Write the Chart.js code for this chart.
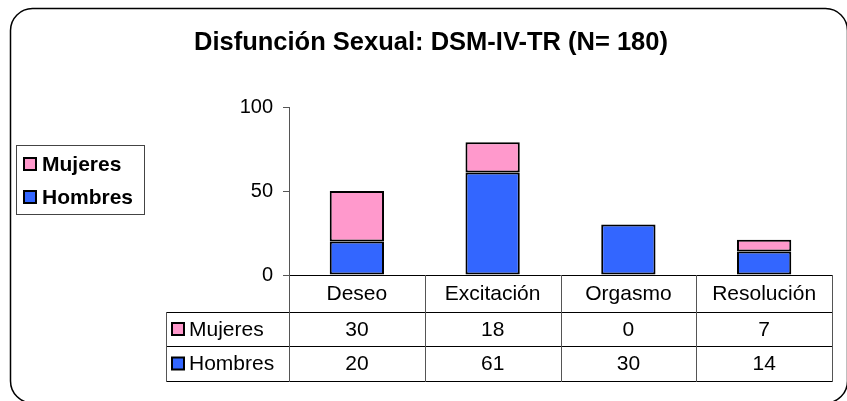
<!DOCTYPE html>
<html>
<head>
<meta charset="utf-8">
<script src="https://cdn.jsdelivr.net/npm/chart.js@4.4.1/dist/chart.umd.min.js"></script>
<style>
html,body{margin:0;padding:0;background:#fff;}
canvas{display:block;}
</style>
</head>
<body>
<canvas id="c" width="847" height="401"></canvas>
<script>
const TITLE = 'Disfunción Sexual: DSM-IV-TR (N= 180)';
const categories = ['Deseo', 'Excitación', 'Orgasmo', 'Resolución'];
const hombres = [20, 61, 30, 14];
const mujeres = [30, 18, 0, 7];
const yTicks = [0, 50, 100];

const BLUE = '#3366FF';
const PINK = '#FF99CC';
const FONT = 'Arial, "Liberation Sans", sans-serif';

const decor = {
  id: 'decor',
  beforeDraw(chart) {
    const ctx = chart.ctx;
    ctx.save();
    ctx.fillStyle = '#fff';
    ctx.fillRect(0, 0, chart.width, chart.height);
    // rounded frame
    const x0 = 10.5, y0 = 8.5, x1 = 847.5, y1 = 403, r = 22;
    ctx.beginPath();
    ctx.moveTo(x0 + r, y0);
    ctx.lineTo(x1 - r, y0);
    ctx.arcTo(x1, y0, x1, y0 + r, r);
    ctx.lineTo(x1, y1 - r);
    ctx.arcTo(x1, y1, x1 - r, y1, r);
    ctx.lineTo(x0 + r, y1);
    ctx.arcTo(x0, y1, x0, y1 - r, r);
    ctx.lineTo(x0, y0 + r);
    ctx.arcTo(x0, y0, x0 + r, y0, r);
    ctx.closePath();
    ctx.strokeStyle = '#000';
    ctx.lineWidth = 1.5;
    ctx.stroke();
    // title
    ctx.fillStyle = '#000';
    ctx.font = 'bold 25.5px ' + FONT;
    ctx.textAlign = 'center';
    ctx.textBaseline = 'middle';
    ctx.fillText(TITLE, 431, 43);
    ctx.restore();
  },
  afterDraw(chart) {
    const ctx = chart.ctx;
    const xs = chart.scales.x;
    const area = chart.chartArea;
    const n = categories.length;
    const band = (area.right - area.left) / n;
    const rows = [area.bottom, 312, 346, 381];
    const labelLeft = 166;
    ctx.save();
    // axis line
    ctx.strokeStyle = '#000';
    ctx.lineWidth = 1;
    ctx.beginPath();
    ctx.moveTo(area.left, rows[0] + 0.5);
    ctx.lineTo(area.right, rows[0] + 0.5);
    ctx.stroke();
    // horizontal table lines
    ctx.strokeStyle = '#000';
    for (let k = 1; k < rows.length; k++) {
      ctx.beginPath();
      ctx.moveTo(labelLeft, rows[k] + 0.5);
      ctx.lineTo(area.right, rows[k] + 0.5);
      ctx.stroke();
    }
    // vertical table lines
    ctx.strokeStyle = '#555';
    for (let i = 0; i <= n; i++) {
      const px = Math.round(xs.getPixelForValue(Math.min(i, n - 1)) + (i === n ? band / 2 : -band / 2)) + 0.5;
      ctx.beginPath();
      ctx.moveTo(px, rows[0]);
      ctx.lineTo(px, rows[3] + 1);
      ctx.stroke();
    }
    ctx.beginPath();
    ctx.moveTo(labelLeft + 0.5, rows[1]);
    ctx.lineTo(labelLeft + 0.5, rows[3] + 1);
    ctx.stroke();
    // texts
    ctx.fillStyle = '#000';
    ctx.font = '21px ' + FONT;
    ctx.textAlign = 'center';
    ctx.textBaseline = 'middle';
    const tableRows = [
      { label: 'Mujeres', color: PINK, data: mujeres },
      { label: 'Hombres', color: BLUE, data: hombres }
    ];
    categories.forEach((c, i) => {
      const cx = xs.getPixelForValue(i);
      ctx.fillText(c, cx, (rows[0] + rows[1]) / 2 + 1);
      tableRows.forEach((r, k) => {
        ctx.fillText(String(r.data[i]), cx, (rows[k + 1] + rows[k + 2]) / 2 + 1);
      });
    });
    tableRows.forEach((r, k) => {
      const cy = (rows[k + 1] + rows[k + 2]) / 2;
      ctx.fillStyle = r.color;
      ctx.fillRect(172, cy - 6, 12, 12);
      ctx.strokeStyle = '#000';
      ctx.lineWidth = 2;
      ctx.strokeRect(172, cy - 6, 12, 12);
      ctx.fillStyle = '#000';
      ctx.textAlign = 'left';
      ctx.fillText(r.label, 189, cy + 1);
    });
    // legend
    ctx.lineWidth = 1;
    ctx.strokeStyle = '#444';
    ctx.strokeRect(16.5, 145.5, 128, 69);
    ctx.font = 'bold 21px ' + FONT;
    const legendItems = [
      { label: chart.data.datasets[1].label, color: chart.data.datasets[1].backgroundColor, y: 164 },
      { label: chart.data.datasets[0].label, color: chart.data.datasets[0].backgroundColor, y: 197 }
    ];
    legendItems.forEach(it => {
      ctx.fillStyle = it.color;
      ctx.fillRect(24, it.y - 6, 12, 12);
      ctx.strokeStyle = '#000';
      ctx.lineWidth = 2;
      ctx.strokeRect(24, it.y - 6, 12, 12);
      ctx.fillStyle = '#000';
      ctx.textAlign = 'left';
      ctx.fillText(it.label, 42, it.y + 1);
    });
    ctx.restore();
  }
};

new Chart(document.getElementById('c'), {
  type: 'bar',
  data: {
    labels: categories,
    datasets: [
      { label: 'Hombres', data: hombres, backgroundColor: BLUE, borderColor: '#000', borderWidth: 2, borderSkipped: false },
      { label: 'Mujeres', data: mujeres, backgroundColor: PINK, borderColor: '#000', borderWidth: 2, borderSkipped: false }
    ]
  },
  options: {
    responsive: false,
    animation: false,
    devicePixelRatio: 1,
    layout: { padding: { left: 0, top: 107, right: 15, bottom: 126 } },
    datasets: { bar: { barPercentage: 0.4, categoryPercentage: 1.0 } },
    plugins: { legend: { display: false }, title: { display: false }, tooltip: { enabled: false } },
    scales: {
      x: { stacked: true, display: false },
      y: {
        stacked: true,
        min: 0, max: 100,
        afterFit(scale) { scale.width = 289; },
        afterBuildTicks(scale) { scale.ticks = yTicks.map(v => ({ value: v })); },
        ticks: { color: '#000', font: { family: FONT, size: 20 }, padding: 10 },
        grid: { drawOnChartArea: false, drawTicks: true, tickLength: 6, color: '#555' },
        border: { display: true, color: '#555', width: 1 }
      }
    }
  },
  plugins: [decor]
});
</script>
</body>
</html>
